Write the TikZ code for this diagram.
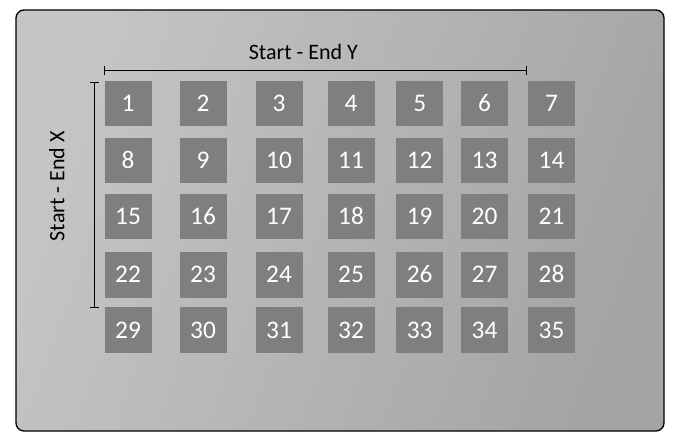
\documentclass[tikz,border=0pt]{standalone}
\usepackage{fontspec}
\setmainfont{Carlito}
\definecolor{bglight}{RGB}{197,197,197}
\definecolor{bgdark}{RGB}{164,164,164}
\definecolor{cellgray}{RGB}{127,127,127}
\begin{document}
\begin{tikzpicture}[x=0.75pt,y=0.75pt,yscale=-1,xscale=1,
    cell/.style={fill=cellgray,text=white,inner sep=0pt,minimum width=35.25pt,minimum height=34.1pt,text height=12pt,text depth=0pt,font=\fontsize{19}{19}\selectfont},
    axislabel/.style={anchor=base,inner sep=0.75pt,font=\fontsize{16.5}{16.5}\selectfont}]
        \useasboundingbox (0,0) rectangle (678,441);
        % Panel
        \shade [left color=bglight,right color=bgdark,shading angle=70] [rounded corners=6pt] (16,10) rectangle (664,431);
        \draw [line width=1pt,rounded corners=6pt] (16,10) rectangle (664,431);
        % Text Node
        \node [axislabel] (lblY) at (303.4,59.3) {Start - End Y};
        % Text Node
        \node [axislabel,rotate=90] (lblX) at (64.3,186.3) {Start - End X};
        % Row 1
        \node [cell] (c1) at (128,103.3) {1};
        \node [cell] (c2) at (203,103.3) {2};
        \node [cell] (c3) at (279,103.3) {3};
        \node [cell] (c4) at (351,103.3) {4};
        \node [cell] (c5) at (419.7,103.3) {5};
        \node [cell] (c6) at (484.5,103.3) {6};
        \node [cell] (c7) at (551.5,103.3) {7};
        % Row 2
        \node [cell] (c8) at (128,160.7) {8};
        \node [cell] (c9) at (203,160.7) {9};
        \node [cell] (c10) at (279,160.7) {10};
        \node [cell] (c11) at (351,160.7) {11};
        \node [cell] (c12) at (419.7,160.7) {12};
        \node [cell] (c13) at (484.5,160.7) {13};
        \node [cell] (c14) at (551.5,160.7) {14};
        % Row 3
        \node [cell] (c15) at (128,216.7) {15};
        \node [cell] (c16) at (203,216.7) {16};
        \node [cell] (c17) at (279,216.7) {17};
        \node [cell] (c18) at (351,216.7) {18};
        \node [cell] (c19) at (419.7,216.7) {19};
        \node [cell] (c20) at (484.5,216.7) {20};
        \node [cell] (c21) at (551.5,216.7) {21};
        % Row 4
        \node [cell] (c22) at (128,275) {22};
        \node [cell] (c23) at (203,275) {23};
        \node [cell] (c24) at (279,275) {24};
        \node [cell] (c25) at (351,275) {25};
        \node [cell] (c26) at (419.7,275) {26};
        \node [cell] (c27) at (484.5,275) {27};
        \node [cell] (c28) at (551.5,275) {28};
        % Row 5
        \node [cell] (c29) at (128,330.2) {29};
        \node [cell] (c30) at (203,330.2) {30};
        \node [cell] (c31) at (279,330.2) {31};
        \node [cell] (c32) at (351,330.2) {32};
        \node [cell] (c33) at (419.7,330.2) {33};
        \node [cell] (c34) at (484.5,330.2) {34};
        \node [cell] (c35) at (551.5,330.2) {35};
        % Span Y
        \coordinate (ystart) at (104.3,70.3);
        \coordinate (yend) at (527,70.3);
        \draw [|-|,line width=0.75pt] (ystart) -- (yend);
        % Span X
        \coordinate (xstart) at (94.3,81.7);
        \coordinate (xend) at (94.3,308.3);
        \draw [|-|,line width=0.75pt] (xstart) -- (xend);
    \end{tikzpicture}
\end{document}
